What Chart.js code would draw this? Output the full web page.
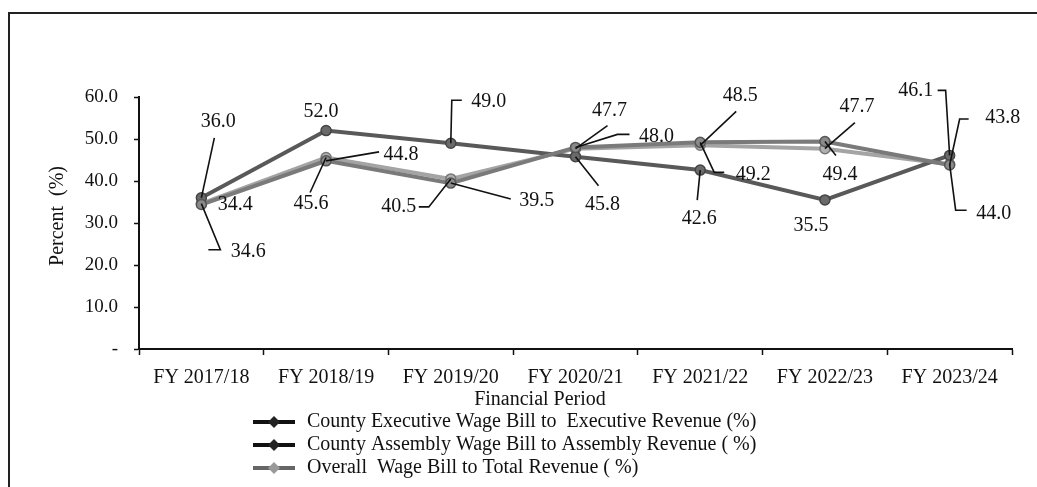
<!DOCTYPE html>
<html>
<head>
<meta charset="utf-8">
<script src="https://cdn.jsdelivr.net/npm/chart.js@4/dist/chart.umd.min.js"></script>
<style>
  html, body { margin: 0; padding: 0; background: #fff; }
  #wrap { width: 1037px; height: 487px; }
</style>
</head>
<body>
<div id="wrap"><canvas id="chart" width="1037" height="487"></canvas></div>
<script>
const PERIODS = ['FY 2017/18', 'FY 2018/19', 'FY 2019/20', 'FY 2020/21', 'FY 2021/22', 'FY 2022/23', 'FY 2023/24']
const EXECUTIVE = [34.4, 44.8, 39.5, 48.0, 49.2, 49.4, 43.8]
const ASSEMBLY = [36.0, 52.0, 49.0, 45.8, 42.6, 35.5, 46.1]
const OVERALL = [34.6, 45.6, 40.5, 47.7, 48.5, 47.7, 44.0]
const Y_TICKS = [0, 10, 20, 30, 40, 50, 60]

const SERIF = '"Liberation Serif", "Times New Roman", serif'

// where each value label sits relative to its point, with optional leader line
const LABEL_LAYOUT = [
  [ // executive
    { dx: 34, dy: 0 },
    { dx: 75, dy: -6, leader: [[53, -9]] },
    { dx: 86, dy: 18, leader: [[60, 16]] },
    { dx: 81, dy: -11, leader: [[54, -13], [42, -13]] },
    { dx: 53, dy: 32, leader: [[24, 30], [14, 30]] },
    { dx: 15, dy: 33, leader: [[11, 14]] },
    { dx: 53, dy: -47, leader: [[19, -46], [10, -46]] }
  ],
  [ // assembly
    { dx: 17, dy: -76, leader: [[13, -60]] },
    { dx: -5, dy: -19 },
    { dx: 38, dy: -41, leader: [[11, -43], [1, -43]] },
    { dx: 27, dy: 48, leader: [[23, 29]] },
    { dx: -1, dy: 49, leader: [[-3, 30]] },
    { dx: -14, dy: 26 },
    { dx: -34, dy: -65, leader: [[-12, -65], [-4, -65]] }
  ],
  [ // overall
    { dx: 47, dy: 48, leader: [[7, 46], [19, 46]] },
    { dx: -15, dy: 46, leader: [[-16, 35]] },
    { dx: -52, dy: 28, leader: [[-32, 28], [-22, 28]] },
    { dx: 34, dy: -38, leader: [[32, -23]] },
    { dx: 40, dy: -50, leader: [[36, -34]] },
    { dx: 32, dy: -42, leader: [[30, -26]] },
    { dx: 44, dy: 50, leader: [[17, 46], [6, 46]] }
  ]
]

const LEGEND_STYLE = [
  { line: '#111', marker: '#222' },
  { line: '#111', marker: '#222' },
  { line: '#666', marker: '#999' }
]

const decorations = {
  id: 'decorations',
  afterDatasetsDraw (chart) {
    const ctx = chart.ctx
    ctx.save()

    // scanned frame around the figure
    ctx.strokeStyle = '#222'
    ctx.lineWidth = 2
    ctx.beginPath()
    ctx.moveTo(9, 487)
    ctx.lineTo(9, 13)
    ctx.lineTo(1037, 13)
    ctx.stroke()

    // value labels with leaders
    chart.data.datasets.forEach((ds, i) => {
      const meta = chart.getDatasetMeta(i)
      meta.data.forEach((pt, j) => {
        const lay = LABEL_LAYOUT[i][j]
        if (lay.leader) {
          ctx.strokeStyle = '#111'
          ctx.lineWidth = 1.6
          ctx.beginPath()
          ctx.moveTo(pt.x + lay.leader[0][0], pt.y + lay.leader[0][1])
          lay.leader.slice(1).forEach(([lx, ly]) => ctx.lineTo(pt.x + lx, pt.y + ly))
          ctx.lineTo(pt.x, pt.y)
          ctx.stroke()
        }
        ctx.fillStyle = '#111'
        ctx.font = '20px ' + SERIF
        ctx.textAlign = 'center'
        ctx.textBaseline = 'middle'
        ctx.fillText(ds.data[j].toFixed(1), pt.x + lay.dx, pt.y + lay.dy)
      })
    })

    // axis titles
    ctx.fillStyle = '#111'
    ctx.font = '20px ' + SERIF
    ctx.textAlign = 'center'
    ctx.textBaseline = 'middle'
    ctx.fillText('Financial Period', 540, 400)
    ctx.save()
    ctx.translate(58, 216)
    ctx.rotate(-Math.PI / 2)
    ctx.fillText('Percent  (%)', 0, 0)
    ctx.restore()

    // legend: line + diamond, one entry per row
    chart.data.datasets.forEach((ds, i) => {
      const y = 422 + i * 23
      const st = LEGEND_STYLE[i]
      ctx.strokeStyle = st.line
      ctx.lineWidth = 4
      ctx.beginPath()
      ctx.moveTo(253, y)
      ctx.lineTo(295, y)
      ctx.stroke()
      ctx.fillStyle = st.marker
      ctx.beginPath()
      ctx.moveTo(274, y - 6)
      ctx.lineTo(280, y)
      ctx.lineTo(274, y + 6)
      ctx.lineTo(268, y)
      ctx.closePath()
      ctx.fill()
      ctx.fillStyle = '#111'
      ctx.font = '20px ' + SERIF
      ctx.textAlign = 'left'
      ctx.fillText(ds.label, 307, y)
    })
    ctx.restore()
  }
}

const datasets = [
  { label: 'County Executive Wage Bill to  Executive Revenue (%)', data: EXECUTIVE, borderColor: '#7a7a7a', backgroundColor: '#8a8a8a', pointBorderColor: '#555' },
  { label: 'County Assembly Wage Bill to Assembly Revenue ( %)', data: ASSEMBLY, borderColor: '#595959', backgroundColor: '#6a6a6a', pointBorderColor: '#444' },
  { label: 'Overall  Wage Bill to Total Revenue ( %)', data: OVERALL, borderColor: '#a4a4a4', backgroundColor: '#b0b0b0', pointBorderColor: '#777' }
].map(d => ({ ...d, borderWidth: 4, pointRadius: 5, pointBorderWidth: 1.5, tension: 0 }))

new Chart(document.getElementById('chart'), {
  type: 'line',
  data: { labels: PERIODS, datasets },
  plugins: [decorations],
  options: {
    responsive: false,
    animation: false,
    layout: { padding: { top: 97, right: 25, bottom: 0, left: 0 } },
    plugins: { legend: { display: false }, tooltip: { enabled: false } },
    scales: {
      x: {
        offset: true,
        afterFit: (scale) => { scale.height = 138 },
        border: { color: '#111', width: 2 },
        grid: { offset: true, drawOnChartArea: false, color: '#111', tickLength: 6, tickWidth: 1.5 },
        ticks: { color: '#111', font: { family: SERIF, size: 20 }, padding: 11, autoSkip: false, maxRotation: 0 }
      },
      y: {
        min: 0,
        max: 60,
        afterFit: (scale) => { scale.width = 139 },
        afterBuildTicks: (scale) => { scale.ticks = Y_TICKS.map(v => ({ value: v })) },
        border: { color: '#111', width: 2 },
        grid: { drawOnChartArea: false, color: '#111', tickLength: 5, tickWidth: 1.5 },
        ticks: {
          color: '#111',
          font: { family: SERIF, size: 19 },
          padding: 16,
          callback: (v) => v === 0 ? '-' : v.toFixed(1)
        }
      }
    }
  }
})
</script>
</body>
</html>
